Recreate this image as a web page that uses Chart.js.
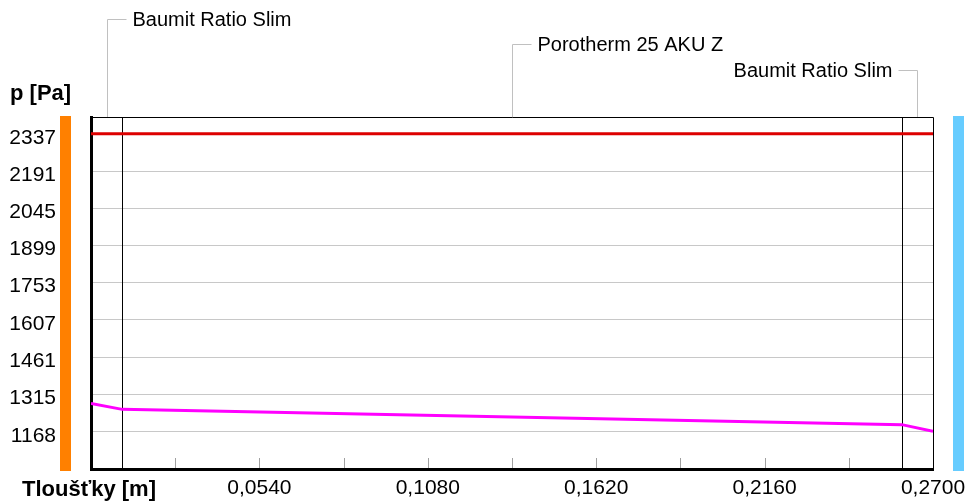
<!DOCTYPE html>
<html>
<head>
<meta charset="utf-8">
<script src="https://cdn.jsdelivr.net/npm/chart.js@4.4.1/dist/chart.umd.min.js"></script>
<style>
  html, body { margin: 0; padding: 0; background: #fff; }
  #wrap { width: 967px; height: 504px; }
</style>
</head>
<body>
<div id="wrap"><canvas id="chart" width="967" height="504"></canvas></div>
<script>
// thickness through the wall [m] and the pressures [Pa]
const thickness = [0, 0.01, 0.26, 0.27];
const pVapour = [1279, 1256, 1196, 1170];
const pSaturated = [2337, 2337, 2337, 2337];

const layerNames = ['Baumit Ratio Slim', 'Porotherm 25 AKU Z', 'Baumit Ratio Slim'];
const layerBounds = [0, 0.01, 0.26, 0.27];

const xTicks = [0, 0.027, 0.054, 0.081, 0.108, 0.135, 0.162, 0.189, 0.216, 0.243, 0.27];
const yTicks = [1168, 1315, 1461, 1607, 1753, 1899, 2045, 2191, 2337];

const FONT = '"Liberation Sans", Arial, sans-serif';
const labelRows = [19, 44, 70];

let toPoints = function (xs, ys) {
    return xs.map((x, i) => ({x: x, y: ys[i]}));
};

const wallPlugin = {
    id: 'wall',
    beforeDatasetsDraw(chart) {
        const ctx = chart.ctx;
        const a = chart.chartArea;
        const x = chart.scales.x;
        ctx.save();
        // small tick marks pointing into the plot
        ctx.strokeStyle = '#a0a0a0';
        ctx.lineWidth = 1;
        xTicks.slice(1, -1).forEach(v => {
            const px = Math.round(x.getPixelForValue(v)) + 0.5;
            ctx.beginPath();
            ctx.moveTo(px, a.bottom - 1);
            ctx.lineTo(px, a.bottom - 11);
            ctx.stroke();
        });
        // frame top and right
        ctx.strokeStyle = '#000';
        ctx.beginPath();
        ctx.moveTo(a.left, a.top + 0.5);
        ctx.lineTo(a.right + 0.5, a.top + 0.5);
        ctx.lineTo(a.right + 0.5, a.bottom);
        ctx.stroke();
        // layer boundaries
        layerBounds.slice(1, -1).forEach(v => {
            const px = Math.round(x.getPixelForValue(v)) + 0.5;
            ctx.beginPath();
            ctx.moveTo(px, a.top);
            ctx.lineTo(px, a.bottom);
            ctx.stroke();
        });
        ctx.restore();
    },
    afterDraw(chart) {
        const ctx = chart.ctx;
        const a = chart.chartArea;
        const x = chart.scales.x;
        ctx.save();
        // interior / exterior bars
        ctx.fillStyle = '#ff8000';
        ctx.fillRect(60, a.top - 1, 11, a.bottom - a.top + 3);
        ctx.fillStyle = '#66ccff';
        ctx.fillRect(953, a.top - 1, 11, a.bottom - a.top + 3);

        // layer names with leader lines
        ctx.font = '20px ' + FONT;
        ctx.fillStyle = '#000';
        ctx.strokeStyle = '#c0c0c0';
        ctx.lineWidth = 1;
        ctx.textBaseline = 'middle';
        layerNames.forEach((name, i) => {
            const mid = Math.round(x.getPixelForValue((layerBounds[i] + layerBounds[i + 1]) / 2)) + 0.5;
            const rowY = labelRows[i] + 0.5;
            const toLeft = i === layerNames.length - 1;
            const end = toLeft ? mid - 19 : mid + 19;
            ctx.beginPath();
            ctx.moveTo(mid, a.top);
            ctx.lineTo(mid, rowY);
            ctx.lineTo(end, rowY);
            ctx.stroke();
            ctx.textAlign = toLeft ? 'right' : 'left';
            ctx.fillText(name, toLeft ? end - 6 : end + 6, labelRows[i] + 1);
        });

        // axis titles
        ctx.font = 'bold 22px ' + FONT;
        ctx.textAlign = 'left';
        ctx.fillText('p [Pa]', 10, 94);
        ctx.fillText('Tloušťky [m]', 22, 490);
        ctx.restore();
    }
};

let ctx = document.getElementById('chart').getContext('2d');

new Chart(ctx, {
    type: 'line',
    data: {
        datasets: [
            {
                data: toPoints(thickness, pSaturated),
                borderColor: '#dd0000',
                borderWidth: 3,
                pointRadius: 0,
                tension: 0
            },
            {
                data: toPoints(thickness, pVapour),
                borderColor: '#ff00ff',
                borderWidth: 3,
                pointRadius: 0,
                tension: 0
            }
        ]
    },
    options: {
        responsive: false,
        animation: false,
        events: [],
        layout: {padding: {top: 117, right: 34, left: 0, bottom: 0}},
        plugins: {legend: {display: false}, tooltip: {enabled: false}},
        scales: {
            x: {
                type: 'linear',
                min: 0,
                max: 0.27,
                afterBuildTicks: s => { s.ticks = xTicks.map(v => ({value: v})); },
                afterFit: s => {
                    s.height = 35;
                    s.paddingLeft = 0;
                    s.paddingRight = 0;
                },
                grid: {drawOnChartArea: false, drawTicks: false},
                border: {color: '#000', width: 3},
                ticks: {
                    autoSkip: false,
                    maxRotation: 0,
                    padding: 7,
                    color: '#000',
                    font: {family: FONT, size: 21},
                    callback: (v, i) => (i > 0 && i % 2 === 0) ? v.toFixed(4).replace('.', ',') : ''
                }
            },
            y: {
                type: 'linear',
                min: 1022,
                max: 2403,
                afterBuildTicks: s => { s.ticks = yTicks.map(v => ({value: v})); },
                afterFit: s => {
                    s.width = 91;
                    s.paddingTop = 0;
                    s.paddingBottom = 0;
                },
                grid: {color: '#c8c8c8', lineWidth: 1, drawTicks: false},
                border: {color: '#000', width: 3},
                ticks: {
                    padding: 35,
                    labelOffset: 4,
                    color: '#000',
                    font: {family: FONT, size: 21},
                    callback: v => String(v)
                }
            }
        }
    },
    plugins: [wallPlugin]
});
</script>
</body>
</html>
